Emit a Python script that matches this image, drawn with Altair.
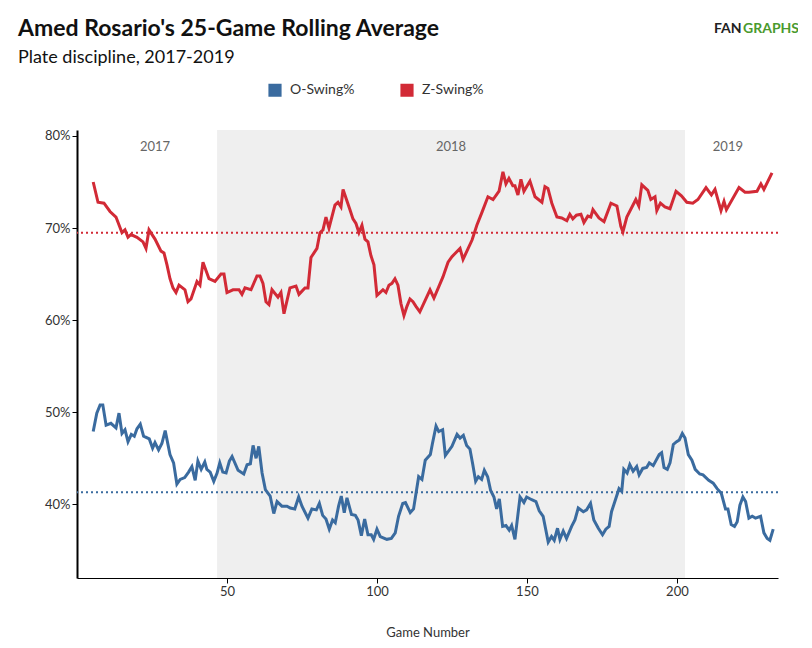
import altair as alt
import pandas as pd

FONT = "Lato, 'Open Sans', sans-serif"

# Z-Swing% (in-zone swing rate), 25-game rolling average
z_games = [5.4, 7, 9, 11, 13, 15, 16, 17, 18, 20, 22, 23, 24, 26, 28, 29, 30, 31, 32, 33,
           34, 36, 37, 38, 40, 41, 42, 44, 46, 48, 49, 50, 52, 54, 55, 56, 58, 60, 61, 62,
           63, 64, 65, 67, 68, 69, 71, 73, 74, 76, 77, 78, 80, 81, 82, 83, 84, 86, 87, 88,
           88.7, 91, 92, 93, 94, 95, 96, 97, 98, 99, 100, 101, 102, 103, 104, 105, 106, 107,
           108, 109, 110, 111, 112, 113, 114.3, 117.7, 119, 122, 123.7, 125, 127.7, 128.7,
           131.7, 133.3, 135, 137, 138.7, 140.7, 142, 143, 144, 145.3, 146, 147, 148, 149,
           151, 152.7, 155, 156, 157, 158.3, 160, 161.6, 163.3, 164.3, 165.3, 166.5, 168,
           169, 170.3, 171.3, 172, 174, 175.7, 178, 180, 181.3, 182, 183.3, 186.3, 187.3,
           188.3, 190.3, 191.3, 192.7, 193.3, 194.5, 196, 197.7, 199.7, 201.5, 203.3, 205.3,
           207, 209.7, 211.5, 212.7, 214.7, 215.7, 216.5, 220.7, 222.7, 224, 226.7, 228,
           229, 231.7]
z_swing = [75, 72.8, 72.7, 71.8, 71.2, 69.5, 69.8, 69, 69.3, 69, 68.5, 67.8, 69.8, 68.8,
           67.5, 67.3, 66, 64.5, 63.5, 63, 63.8, 63.3, 62, 62.3, 64.2, 63.8, 66.3, 64.5, 64.2,
           65, 65, 63, 63.3, 63.3, 62.8, 63.5, 63.3, 64.8, 64.8, 64, 62, 61.7, 63.3, 62.5, 63,
           60.7, 63.5, 63.7, 62.8, 63.5, 63.5, 66.8, 67.8, 69.5, 69.8, 71.2, 70, 72.5, 72.8,
           72.3, 74.2, 72, 71, 70.5, 69.5, 70.3, 68.8, 68.5, 67, 66, 62.7, 63, 63.3, 63, 63.8,
           64, 64.5, 63.8, 61.8, 60.5, 61.5, 62.3, 62, 61.5, 60.9, 63.3, 62.4, 64.7, 66.3,
           66.9, 67.8, 66.6, 68.7, 70.3, 71.7, 73.4, 73.1, 74, 76.1, 74.8, 75.4, 74.6, 74.6,
           73.6, 75.3, 74, 75.1, 73.4, 72.8, 74.5, 74.3, 72.7, 71.2, 71.1, 70.8, 71.5, 71,
           71.4, 71.5, 70.6, 71.3, 71.2, 72, 71.1, 70.7, 72.7, 72.4, 70.2, 69.6, 71.2, 73.1,
           72.4, 74.7, 74.1, 73.1, 73.4, 71.9, 72.7, 72.3, 72.1, 74, 73.5, 72.8, 72.7, 73.1,
           74.4, 73.6, 74.2, 71.9, 72.9, 72, 74.4, 73.9, 73.9, 74, 74.8, 74.2, 76]

# O-Swing% (out-of-zone swing rate), 25-game rolling average
o_games = [5.4, 6.6, 7.7, 8.6, 9.7, 11.3, 13, 14, 15, 16, 17, 18.1, 19.1, 20, 21.1, 22.2,
           24.1, 25.2, 26, 27.2, 28.3, 29.4, 31, 32.2, 33.3, 34.4, 35.9, 37.2, 38.3, 39.4,
           40.3, 41.4, 42.6, 43.3, 44.4, 45.6, 46.7, 47.6, 48.6, 49.7, 50.8, 51.7, 53.7,
           55.6, 56.7, 57.8, 58.7, 59.7, 60.6, 61.7, 62.8, 64.4, 65.6, 66.7, 68.3, 70, 71.1,
           72.6, 73.9, 75, 77, 78.3, 79.8, 80.8, 81.9, 83, 84.1, 85.2, 86.1, 87.2, 88.1,
           89.1, 90, 91.5, 92.8, 93.7, 94.8, 95.9, 97, 98.1, 98.9, 100, 101.1, 103.3, 104.8,
           106.1, 107.2, 108.6, 109.5, 111.1, 112.2, 113.9, 115, 116.1, 117.8, 118.5, 119.7,
           120.6, 121.9, 122.8, 125, 126.7, 127.7, 128.8, 129.9, 131, 131.9, 132.9, 133.8,
           134.9, 135.8, 136.9, 137.9, 139, 139.9, 140.8, 141.9, 143, 144.1, 144.9, 146,
           147.7, 149, 149.9, 151.6, 153, 154.1, 155.4, 157.1, 158.2, 159.1, 160.2, 161,
           162.1, 163.2, 164.9, 166, 167.1, 168.8, 169.9, 171.2, 172.3, 173.8, 175.2, 176.3,
           177.4, 178.2, 179.5, 180.7, 181.6, 182.3, 183.4, 184.3, 185.4, 186.6, 187.4,
           188.6, 189.9, 190.8, 192.1, 194.1, 194.9, 195.7, 196.8, 197.7, 198.8, 199.9,
           200.8, 201.8, 202.7, 203.8, 205, 206.1, 207.6, 208.7, 210.6, 212.1, 213.4, 214.8,
           216.2, 217, 218.1, 219.2, 220.1, 221, 222, 222.9, 224, 225.1, 226.2, 227.9, 229,
           230.1, 231, 232.1]
o_swing = [47.9, 49.9, 50.8, 50.8, 48.6, 48.8, 48.3, 49.9, 47.7, 48.1, 46.8, 47.6, 47.4,
           48.2, 48.7, 47.4, 47.1, 46.1, 46.7, 45.9, 46.6, 48, 45.4, 44.5, 42.2, 42.7, 42.9,
           43.5, 44.1, 42.6, 44.7, 43.8, 44.6, 43.8, 43.5, 42.5, 43.4, 44.5, 43.5, 43.4,
           44.7, 45.2, 43.7, 43.3, 44.3, 44.4, 46.4, 45, 46.3, 43.4, 41.6, 40.9, 39, 40.3,
           39.8, 39.8, 39.6, 39.5, 40.8, 39.8, 38.5, 39.5, 39.4, 40.1, 38.8, 38.4, 37.3, 38.3,
           38, 39.8, 40.9, 39.1, 40.7, 38.9, 38.8, 38.3, 36.6, 38.4, 36.7, 36.7, 36.2, 37.3,
           36.5, 36.2, 36.3, 36.9, 38.7, 40.1, 40.2, 39.1, 39.5, 43, 42.7, 44.8, 45.4, 46.6,
           48.5, 47.9, 48.1, 45.3, 46.3, 47.6, 47.2, 47.5, 46.4, 46, 44.4, 42.5, 43, 42.7,
           43.7, 43, 41.5, 40.8, 39.5, 40.6, 37.6, 37.7, 37.2, 37.7, 36.2, 40.8, 40.2, 40.8,
           40.5, 40.3, 39.3, 38.7, 35.9, 36.5, 36.1, 37.4, 36.2, 37.1, 36.3, 37.6, 38.3, 39.6,
           39.2, 39.4, 40.1, 38.3, 37.4, 36.7, 37.3, 37.6, 39.2, 40.5, 41.7, 41.4, 43.8, 43.4,
           44.3, 43.6, 44.1, 43.2, 43.9, 44, 44.5, 44.2, 45.4, 45.6, 44, 43.8, 44.5, 46.5,
           46.8, 47, 47.7, 47.2, 45.4, 44.8, 43.8, 43.3, 43.2, 42.6, 42.3, 41.7, 41.2, 39.5,
           39.5, 37.8, 37.6, 38.1, 39.9, 40.8, 40.3, 38.5, 38.7, 38.5, 38.7, 36.9, 36.3, 36.1,
           37.3]

series_names = ["O-Swing%", "Z-Swing%"]
series_colors = ["#3a6b9f", "#d22a36"]
series_means = [41.3, 69.5]
season_labels = ["2017", "2018", "2019"]
season_label_x = [26, 124.7, 217]
season_2018 = [46.7, 202.7]

W, H = 701, 448
X_DOM = [0, 233.7]
Y_DOM = [32, 80.65]

df = pd.concat([
    pd.DataFrame({"game": o_games, "value": o_swing, "series": series_names[0]}),
    pd.DataFrame({"game": z_games, "value": z_swing, "series": series_names[1]}),
])
seasons = pd.DataFrame({"label": season_labels, "x": season_label_x})

xs = alt.Scale(domain=X_DOM, nice=False, zero=False)
ys = alt.Scale(domain=Y_DOM, nice=False, zero=False)
color_scale = alt.Scale(domain=series_names, range=series_colors)
legend = alt.Legend(orient="none", legendX=191, legendY=-47, direction="horizontal",
                    symbolType="square", symbolSize=10, symbolStrokeWidth=10,
                    symbolDash=[1, 0], symbolOpacity=1, labelFontSize=14, labelFont=FONT,
                    columnPadding=30, labelOffset=8, labelColor="#333")

shade = (
    alt.Chart(pd.DataFrame({"a": [season_2018[0]], "b": [season_2018[1]]}))
    .mark_rect(color="#efefef")
    .encode(x=alt.X("a:Q", scale=xs), x2="b:Q", y=alt.value(0), y2=alt.value(H))
)

season_text = (
    alt.Chart(seasons)
    .mark_text(font=FONT, fontSize=13, color="#666666")
    .encode(x=alt.X("x:Q", scale=xs), y=alt.value(17), text="label:N")
)

mean_rules = [
    alt.Chart(pd.DataFrame({"mean": [m]}))
    .mark_rule(strokeDash=[2, 3], strokeWidth=2, color=c)
    .encode(y=alt.Y("mean:Q", scale=ys))
    for m, c in zip(series_means, series_colors)
]

lines = (
    alt.Chart(df)
    .mark_line(strokeWidth=3)
    .encode(
        x=alt.X(
            "game:Q", scale=xs, title="Game Number",
            axis=alt.Axis(values=[50, 100, 150, 200], grid=False, domainColor="black",
                          tickColor="black", labelFontSize=13, titleFontSize=13,
                          titleFontWeight="normal", titlePadding=28, labelColor="#333",
                          titleColor="#333"),
        ),
        y=alt.Y(
            "value:Q", scale=ys, title=None,
            axis=alt.Axis(values=[40, 50, 60, 70, 80], grid=False, domainColor="black",
                          domainWidth=2, tickColor="black", labelFontSize=13,
                          labelExpr="datum.value + '%'", labelColor="#333"),
        ),
        color=alt.Color("series:N", scale=color_scale, title=None, legend=legend),
    )
)

title = alt.Chart(pd.DataFrame({"t": ["Amed Rosario's 25-Game Rolling Average"]})).mark_text(
    font=FONT, fontSize=23, fontWeight="bold", align="left", baseline="alphabetic", color="#111"
).encode(x=alt.value(-59), y=alt.value(-94), text="t:N")

subtitle = alt.Chart(pd.DataFrame({"t": ["Plate discipline, 2017-2019"]})).mark_text(
    font=FONT, fontSize=18, align="left", baseline="alphabetic", color="#111"
).encode(x=alt.value(-59), y=alt.value(-67), text="t:N")

logo_fan = alt.Chart(pd.DataFrame({"t": ["FAN"]})).mark_text(
    font=FONT, fontSize=14, fontWeight="bold", align="left", baseline="alphabetic", color="#222"
).encode(x=alt.value(637), y=alt.value(-97), text="t:N")

logo_graphs = alt.Chart(pd.DataFrame({"t": ["GRAPHS"]})).mark_text(
    font=FONT, fontSize=14, fontWeight="bold", align="left", baseline="alphabetic", color="#4a9a2e"
).encode(x=alt.value(666), y=alt.value(-97), text="t:N")

chart = (
    alt.layer(shade, season_text, *mean_rules, lines, title, subtitle, logo_fan, logo_graphs)
    .properties(width=W, height=H, autosize="none",
                padding={"left": 69, "top": 122, "right": 20, "bottom": 60})
    .configure(font=FONT)
    .configure_view(stroke=None)
)

chart.save("out.html", embed_options={"renderer": "svg", "actions": False})
